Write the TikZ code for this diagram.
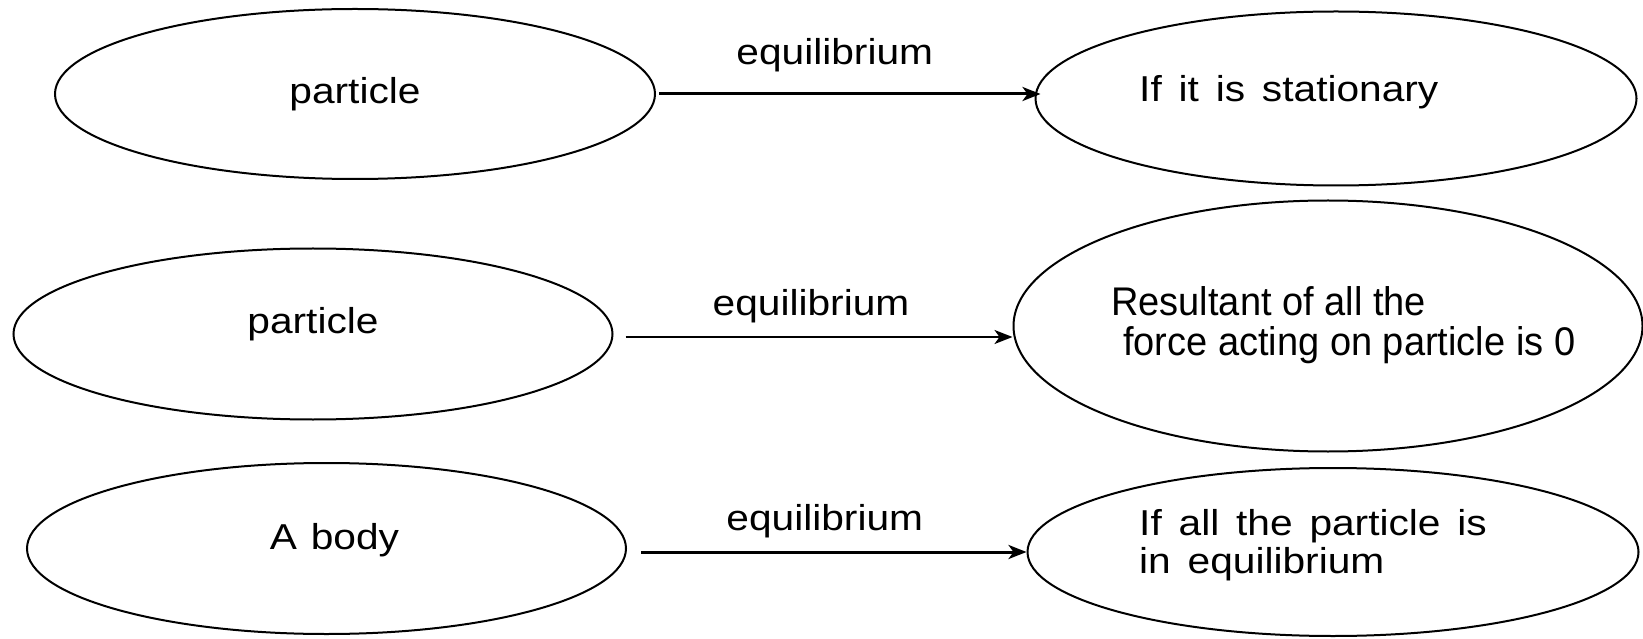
\documentclass[tikz,border=0pt]{standalone}
\usepackage{fontspec}
\setmainfont{Liberation Sans}
\newfontfamily\widefont[FakeStretch=1.13]{Liberation Sans}
\newfontfamily\spacefont[FakeStretch=1.13,WordSpace=1.22]{Liberation Sans}
\newfontfamily\narrowfont[FakeStretch=0.95]{Liberation Sans}
\usepackage{tikz}
\usetikzlibrary{shapes.geometric,arrows.meta}
\tikzset{
  bubble/.style={ellipse,draw,line width=2pt,inner sep=0pt,font=\widefont\fontsize{36}{38}\selectfont},
  words/.style={inner sep=0pt,align=left,font=\spacefont\fontsize{36}{38}\selectfont},
  tag/.style={inner sep=0pt,anchor=base,font=\widefont\fontsize{36}{38}\selectfont},
  link/.style={-{Stealth[length=18pt,width=14pt,inset=5pt]},line width=3pt}
}

\begin{document}
\begin{tikzpicture}[x=1pt,y=1pt]
\useasboundingbox (0,0) rectangle (1643,638);
\node[bubble,minimum width=600pt,minimum height=170pt] (part1) at (355,544) {particle};
\node[bubble,minimum width=601pt,minimum height=174pt] (still) at (1336,539.5) {};
\node[bubble,minimum width=599pt,minimum height=171pt] (part2) at (313,304) {\raisebox{10pt}[\height][\depth]{particle}};
\node[bubble,minimum width=629pt,minimum height=251pt] (force) at (1328,312) {};
\node[bubble,minimum width=599pt,minimum height=171pt] (body) at (326.5,89.5) {\raisebox{8pt}[\height][\depth]{\hspace*{16pt}A body}};
\node[bubble,minimum width=611pt,minimum height=168pt] (all) at (1333,86) {};

\node[words,anchor=base west] (stilltext) at (1139,536.4) {If it is stationary};
\node[words,anchor=west,font=\narrowfont\fontsize{40}{40}\selectfont] (forcetext) at (1111,313.3) {Resultant of all the\\\hspace*{12pt}force acting on particle is 0};
\node[words,anchor=west] (alltext) at (1139,92.4) {If all the particle is\\in equilibrium};

\draw[link,shorten >=-6pt] ([xshift=3pt]part1.east) -- (part1.east -| still.west) node[tag,midway,xshift=-12pt,yshift=29pt] {equilibrium};
\draw[link,line width=2pt] ([xshift=12pt,yshift=-3pt]part2.east) -- ([yshift=-3pt]part2.east -| force.west) node[tag,midway,xshift=-8pt,yshift=22pt] {equilibrium};
\draw[link] ([xshift=14pt,yshift=-3.5pt]body.east) -- (all.west) node[tag,midway,xshift=-9pt,yshift=22pt] {equilibrium};
\end{tikzpicture}
\end{document}
